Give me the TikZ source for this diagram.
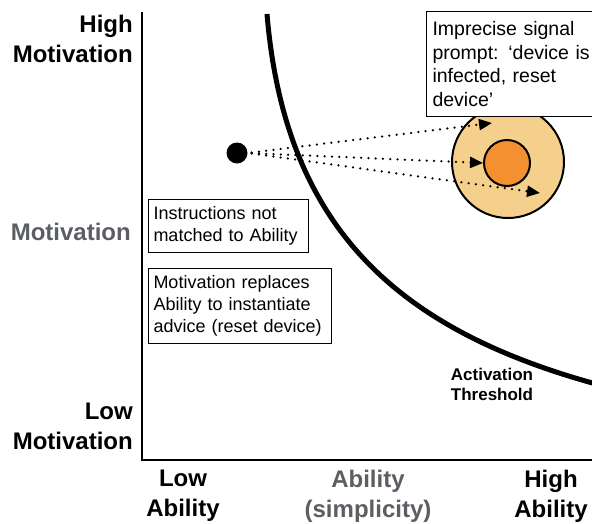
\documentclass[tikz,border=0pt]{standalone}
\usepackage{fontspec}
\setmainfont{Liberation Sans}
\usetikzlibrary{arrows.meta}
\definecolor{paleorange}{HTML}{F4D08C}
\definecolor{deeporange}{HTML}{F39130}
\definecolor{labelgray}{HTML}{5B5E63}

\begin{document}
\begin{tikzpicture}[x=1pt,y=-1pt,
    axislabel/.style={font=\fontsize{24}{30}\selectfont\bfseries, inner sep=0pt},
    notebox/.style={draw, line width=1pt, fill=white, align=left, inner xsep=5pt, inner ysep=7pt, font=\fontsize{18}{22}\selectfont},
    hint/.style={line width=2.5pt, line cap=round, dash pattern=on 0pt off 7.3pt, shorten <=4pt, -{Triangle[length=13pt,width=11pt]}}]
    \useasboundingbox (0,0) rectangle (592,523);
    \coordinate (origin) at (142,460);
    \coordinate (ytop) at (142,12);
    \coordinate (xend) at (594,460);
    \draw[line width=2.2pt] (ytop) -- (origin) -- (xend);
    \node[axislabel, align=right, anchor=north east] (highmot) at (133,15) {High\\Motivation};
    \node[axislabel, align=right, anchor=east, text=labelgray] (midmot) at (131,232) {Motivation};
    \node[axislabel, align=right, anchor=north east] (lowmot) at (133,403) {Low\\Motivation};
    \node[axislabel, align=center, anchor=north] (lowab) at (183,470) {Low\\Ability};
    \node[axislabel, align=center, anchor=north, text=labelgray] (midab) at (368,470) {Ability\\(simplicity)};
    \node[axislabel, align=center, anchor=north] (highab) at (551,470) {High\\Ability};
    \coordinate (curvetop) at (267,14);
    \coordinate (curveend) at (596,384);
    \draw[line width=5pt] (curvetop) .. controls (285,230) and (400,330) .. (curveend);
    \node[font=\fontsize{17}{20}\selectfont\bfseries, align=center, anchor=north, inner sep=0pt] (threshold) at (492,368) {Activation\\Threshold};
    \node[circle, draw, line width=2pt, fill=paleorange, minimum size=112pt, inner sep=0pt] (outer) at (508,162) {};
    \node[circle, draw, line width=2pt, fill=deeporange, minimum size=46pt, inner sep=0pt] (inner) at (507,163) {};
    \node[notebox, anchor=north west, text width=172pt, inner xsep=6pt, inner ysep=10pt, font=\fontsize{19.5}{23.5}\selectfont] (prompt) at (426,11) {Imprecise signal\\prompt: ‘device is\\infected, reset\\device’};
    \node[notebox, anchor=north west, text width=150pt] (mismatch) at (148,199) {Instructions not\\matched to Ability};
    \node[notebox, anchor=north west, text width=173pt] (replaces) at (148,268) {Motivation replaces\\Ability to instantiate\\advice (reset device)};
    \node[circle, fill=black, minimum size=21pt, inner sep=0pt] (dot) at (237,153) {};
    \coordinate (tipa) at (492,123);
    \coordinate (tipc) at (540,193);
    \draw[hint] (dot.east) -- (tipa);
    \draw[hint] (dot.east) -- (inner.west);
    \draw[hint] (dot.east) -- (tipc);
\end{tikzpicture}
\end{document}
